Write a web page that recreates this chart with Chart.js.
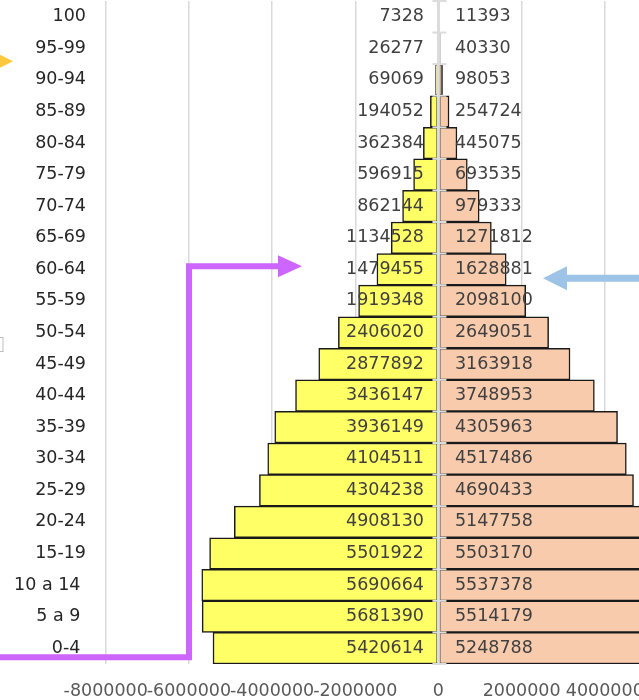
<!DOCTYPE html>
<html>
<head>
<meta charset="utf-8">
<script src="https://cdn.jsdelivr.net/npm/chart.js@4.4.1/dist/chart.umd.min.js"></script>
<style>
  html, body { margin: 0; padding: 0; background: #fff; overflow: hidden; }
  #wrap { width: 720px; height: 700px; }
</style>
</head>
<body>
<div id="wrap"><canvas id="pyramid" width="720" height="700"></canvas></div>
<script>
// age groups, youngest first (axis is reversed so 0-4 sits at the bottom)
const ageGroups = ["0-4 ", "5 a 9 ", "10 a 14 ", "15-19", "20-24", "25-29", "30-34", "35-39", "40-44",
  "45-49", "50-54", "55-59", "60-64", "65-69", "70-74", "75-79", "80-84", "85-89", "90-94", "95-99", "100"];
const male = [5420614, 5681390, 5690664, 5501922, 4908130, 4304238, 4104511, 3936149, 3436147,
  2877892, 2406020, 1919348, 1479455, 1134528, 862144, 596915, 362384, 194052, 69069, 26277, 7328];
const female = [5248788, 5514179, 5537378, 5503170, 5147758, 4690433, 4517486, 4305963, 3748953,
  3163918, 2649051, 2098100, 1628881, 1271812, 979333, 693535, 445075, 254724, 98053, 40330, 11393];
const xTicks = [-8000000, -6000000, -4000000, -2000000, 0, 2000000, 4000000];

const FONT = '"DejaVu Sans", Verdana, sans-serif';

function arrowHead(ctx, tipX, tipY, dir, len, half, color) {
  ctx.fillStyle = color;
  ctx.beginPath();
  ctx.moveTo(tipX, tipY);
  ctx.lineTo(tipX - dir * len, tipY - half);
  ctx.lineTo(tipX - dir * len, tipY + half);
  ctx.closePath();
  ctx.fill();
}

const pyramidExtras = {
  id: 'pyramidExtras',
  afterDatasetsDraw(chart) {
    const { ctx, chartArea, scales: { x, y } } = chart;
    const x0 = x.getPixelForValue(0);
    const rowH = (chartArea.bottom - chartArea.top) / ageGroups.length;
    ctx.save();
    // vertical axis line at zero, drawn over the bars
    ctx.strokeStyle = '#dcdcdc';
    ctx.lineWidth = 3;
    ctx.beginPath();
    ctx.moveTo(x0, chartArea.top);
    ctx.lineTo(x0, chartArea.bottom);
    ctx.stroke();
    ctx.lineWidth = 2;
    for (let i = 0; i <= ageGroups.length; i++) {
      const yy = chartArea.top + i * rowH;
      ctx.beginPath();
      ctx.moveTo(x0 - 6, yy);
      ctx.lineTo(x0 + 8, yy);
      ctx.stroke();
    }
    // value labels
    ctx.font = '17.5px ' + FONT;
    ctx.fillStyle = '#404040';
    ctx.textBaseline = 'middle';
    male.forEach((v, i) => {
      const yy = y.getPixelForValue(i);
      ctx.textAlign = 'right';
      ctx.fillText(String(v), x0 - 14.5, yy);
      ctx.textAlign = 'left';
      ctx.fillText(String(female[i]), x0 + 16.5, yy);
    });
    ctx.restore();
  },
  afterDraw(chart) {
    const { ctx, scales: { y } } = chart;
    const y60 = y.getPixelForValue(ageGroups.indexOf("60-64"));
    const y04 = y.getPixelForValue(0);
    const y95 = y.getPixelForValue(ageGroups.indexOf("95-99"));
    ctx.save();
    // purple elbow arrow
    ctx.strokeStyle = '#cc66ff';
    ctx.lineWidth = 6;
    ctx.lineJoin = 'miter';
    ctx.beginPath();
    ctx.moveTo(-5, y04 + 9);
    ctx.lineTo(189, y04 + 9);
    ctx.lineTo(189, y60 - 3);
    ctx.lineTo(282, y60 - 3);
    ctx.stroke();
    arrowHead(ctx, 302, y60 - 3, 1, 24, 11, '#cc66ff');
    // blue arrow from the right
    ctx.strokeStyle = '#9dc3e6';
    ctx.lineWidth = 7;
    ctx.beginPath();
    ctx.moveTo(700, y60 + 9);
    ctx.lineTo(564, y60 + 9);
    ctx.stroke();
    arrowHead(ctx, 543, y60 + 9, -1, 24, 12, '#9dc3e6');
    // yellow arrow tip at the left edge
    arrowHead(ctx, 13, y95 + 13, 1, 16, 8, '#ffc83d');
    // small box edge at the left border
    ctx.strokeStyle = '#bfbfbf';
    ctx.lineWidth = 1;
    ctx.strokeRect(-3, 337.5, 6, 14);
    ctx.restore();
  }
};

const barStyle = {
  borderColor: '#1a1a1a',
  borderWidth: 1.5,
  borderSkipped: false,
  barPercentage: 1,
  categoryPercentage: 1
};

new Chart(document.getElementById('pyramid'), {
  type: 'bar',
  data: {
    labels: ageGroups,
    datasets: [
      Object.assign({ label: 'Hombres', data: male.map(v => -v), backgroundColor: '#ffff66' }, barStyle),
      Object.assign({ label: 'Mujeres', data: female, backgroundColor: '#f8cbad' }, barStyle)
    ]
  },
  options: {
    indexAxis: 'y',
    responsive: false,
    animation: false,
    devicePixelRatio: 1,
    layout: { padding: { top: 1, left: 0, right: 0, bottom: 0 } },
    plugins: { legend: { display: false }, tooltip: { enabled: false } },
    scales: {
      x: {
        stacked: true,
        min: -8330000,
        max: 6770000,
        afterBuildTicks: s => { s.ticks = xTicks.map(v => ({ value: v })); },
        afterFit: s => { s.height = 36; s.paddingLeft = 0; s.paddingRight = 0; },
        grid: { color: '#d9d9d9', lineWidth: 1.5, drawTicks: false },
        border: { display: false },
        ticks: {
          autoSkip: false, maxRotation: 0, padding: 17, color: '#595959',
          font: { family: FONT, size: 17.5 },
          callback: v => String(v)
        }
      },
      y: {
        stacked: true,
        reverse: true,
        afterFit: s => { s.width = 92; s.paddingTop = 0; s.paddingBottom = 0; },
        grid: { display: false, drawTicks: false },
        border: { display: false },
        ticks: { padding: 6, color: '#262626', font: { family: FONT, size: 17.5 } }
      }
    }
  },
  plugins: [pyramidExtras]
});
</script>
</body>
</html>
